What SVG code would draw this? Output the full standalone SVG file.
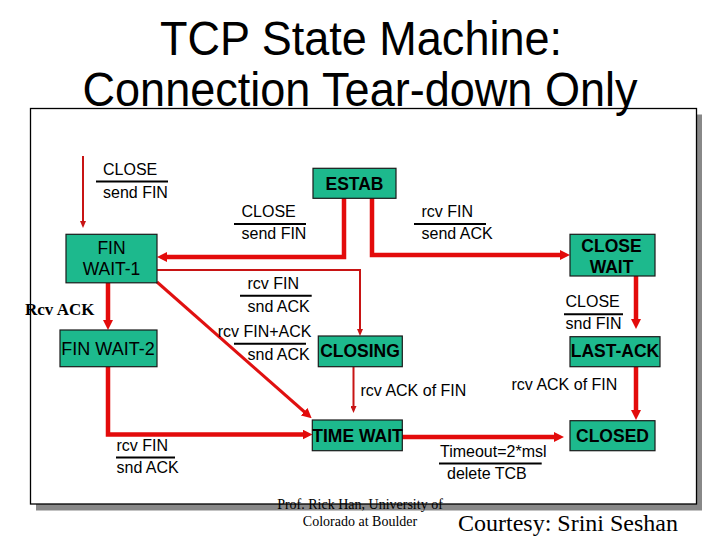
<svg xmlns="http://www.w3.org/2000/svg" width="720" height="540" viewBox="0 0 720 540">
<defs>
<style>
.node rect{fill:#1DB98D;stroke:#1a1a1a;stroke-width:1.2}
.node text{font-family:"Liberation Sans",Arial,sans-serif;font-size:17.5px;font-weight:bold;fill:#000;text-anchor:middle}
.node text.reg{font-weight:normal}
.lbl{font-family:"Liberation Sans",Arial,sans-serif;font-size:16px;fill:#000}
.bar{stroke:#000;stroke-width:2}
.thick{fill:none;stroke:#E30B0B;stroke-width:4.5;stroke-linejoin:miter}
.mid{fill:none;stroke:#E01010;stroke-width:3}
.thin{fill:none;stroke:#C81414;stroke-width:2}
.title{font-family:"Liberation Sans",Arial,sans-serif;font-size:48px;fill:#000;text-anchor:middle}
.times{font-family:"Liberation Serif","Times New Roman",serif;fill:#000}
</style>
<marker id="ah" viewBox="0 0 10 10" markerUnits="userSpaceOnUse" markerWidth="10" markerHeight="10" refX="2" refY="5" orient="auto">
<path d="M0,0 L10,5 L0,10 z" fill="#E30B0B"/>
</marker>
<marker id="ahs" viewBox="0 0 7 6" markerUnits="userSpaceOnUse" markerWidth="7" markerHeight="6" refX="1" refY="3" orient="auto">
<path d="M0,0 L7,3 L0,6 z" fill="#C81414"/>
</marker>
</defs>
<rect width="720" height="540" fill="#fff"/>
<g id="frame">
<rect x="36" y="114.5" width="666" height="396" fill="#888"/>
<rect x="30.5" y="108.5" width="666" height="395.5" fill="#fff" stroke="#000" stroke-width="1.3"/>
</g>
<g id="title">
<text class="title" x="361" y="55" textLength="402" lengthAdjust="spacingAndGlyphs">TCP State Machine:</text>
<text class="title" x="360" y="106" textLength="555" lengthAdjust="spacingAndGlyphs">Connection Tear-down Only</text>
</g>
<g id="connectors">
<path class="thin" d="M83,156 V222" marker-end="url(#ahs)"/>
<path class="thick" d="M344,198 V257 H165" marker-end="url(#ah)"/>
<path class="thick" d="M372,198 V255 H562" marker-end="url(#ah)"/>
<path class="thin" d="M157,270 H360 V330" marker-end="url(#ahs)"/>
<path class="mid" d="M157,282 L305.7,413" marker-end="url(#ah)"/>
<path class="thick" d="M108,283 V322" marker-end="url(#ah)"/>
<path class="thick" d="M108,367 V434.5 H304.5" marker-end="url(#ah)"/>
<path class="thin" d="M353.5,367 V407" marker-end="url(#ahs)"/>
<path class="thick" d="M636,276 V321" marker-end="url(#ah)"/>
<path class="thick" d="M636,367 V412" marker-end="url(#ah)"/>
<path class="thick" d="M402,437 H556" marker-end="url(#ah)"/>
</g>
<g id="labels">
<text class="lbl" x="103" y="175">CLOSE</text>
<line class="bar" x1="96" y1="181.5" x2="168" y2="181.5"/>
<text class="lbl" x="103" y="197.5">send FIN</text>
<text class="lbl" x="241.5" y="216.5">CLOSE</text>
<line class="bar" x1="234" y1="224" x2="306" y2="224"/>
<text class="lbl" x="241.5" y="239">send FIN</text>
<text class="lbl" x="421.5" y="216.5">rcv FIN</text>
<line class="bar" x1="414" y1="224" x2="486" y2="224"/>
<text class="lbl" x="421.5" y="239">send ACK</text>
<text class="lbl" x="247.5" y="289">rcv FIN</text>
<line class="bar" x1="240" y1="295.7" x2="311.7" y2="295.7"/>
<text class="lbl" x="247.5" y="311.5">snd ACK</text>
<text class="lbl" x="217.7" y="336.5">rcv FIN+ACK</text>
<line class="bar" x1="234" y1="343.7" x2="306" y2="343.7"/>
<text class="lbl" x="247.5" y="359.5">snd ACK</text>
<text class="times" x="25" y="315" font-size="17" font-weight="bold">Rcv ACK</text>
<text class="lbl" x="116.5" y="451">rcv FIN</text>
<line class="bar" x1="116" y1="457.5" x2="175" y2="457.5"/>
<text class="lbl" x="116.5" y="473">snd ACK</text>
<text class="lbl" x="360.5" y="396">rcv ACK of FIN</text>
<text class="lbl" x="565.5" y="306.5">CLOSE</text>
<line class="bar" x1="564" y1="314.3" x2="623" y2="314.3"/>
<text class="lbl" x="565.5" y="329">snd FIN</text>
<text class="lbl" x="511.5" y="390">rcv ACK of FIN</text>
<text class="lbl" x="440" y="456.5">Timeout=2*msl</text>
<line class="bar" x1="439" y1="463.5" x2="541.7" y2="463.5"/>
<text class="lbl" x="447" y="478.5">delete TCB</text>
</g>
<g id="ESTAB" class="node">
<rect x="313" y="168.3" width="83" height="30"/>
<text x="354.5" y="190">ESTAB</text>
</g>
<g id="FIN_WAIT_1" class="node">
<rect x="66" y="234.3" width="91" height="48.5"/>
<text class="reg" x="111.5" y="254">FIN</text>
<text class="reg" x="111.5" y="275">WAIT-1</text>
</g>
<g id="CLOSE_WAIT" class="node">
<rect x="570" y="234.3" width="85" height="41.7"/>
<text x="611.5" y="251.5">CLOSE</text>
<text x="611.5" y="273">WAIT</text>
</g>
<g id="FIN_WAIT_2" class="node">
<rect x="60" y="330" width="97" height="36.7"/>
<text class="reg" x="108" y="355" style="font-size:18px">FIN WAIT-2</text>
</g>
<g id="CLOSING" class="node">
<rect x="318.3" y="336" width="84" height="30.7"/>
<text x="360" y="357.3">CLOSING</text>
</g>
<g id="LAST_ACK" class="node">
<rect x="570" y="336.7" width="90" height="30"/>
<text x="615" y="357">LAST-ACK</text>
</g>
<g id="TIME_WAIT" class="node">
<rect x="312.3" y="420" width="90" height="30.7"/>
<text x="357.5" y="441.5">TIME WAIT</text>
</g>
<g id="CLOSED" class="node">
<rect x="570" y="420.7" width="85" height="30"/>
<text x="612.5" y="441.5">CLOSED</text>
</g>
<g id="footer">
<text class="times" x="360" y="508.5" font-size="14" text-anchor="middle">Prof. Rick Han, University of</text>
<text class="times" x="360" y="525.7" font-size="14" text-anchor="middle">Colorado at Boulder</text>
<text class="times" x="458" y="531" font-size="24">Courtesy: Srini Seshan</text>
</g>
</svg>
